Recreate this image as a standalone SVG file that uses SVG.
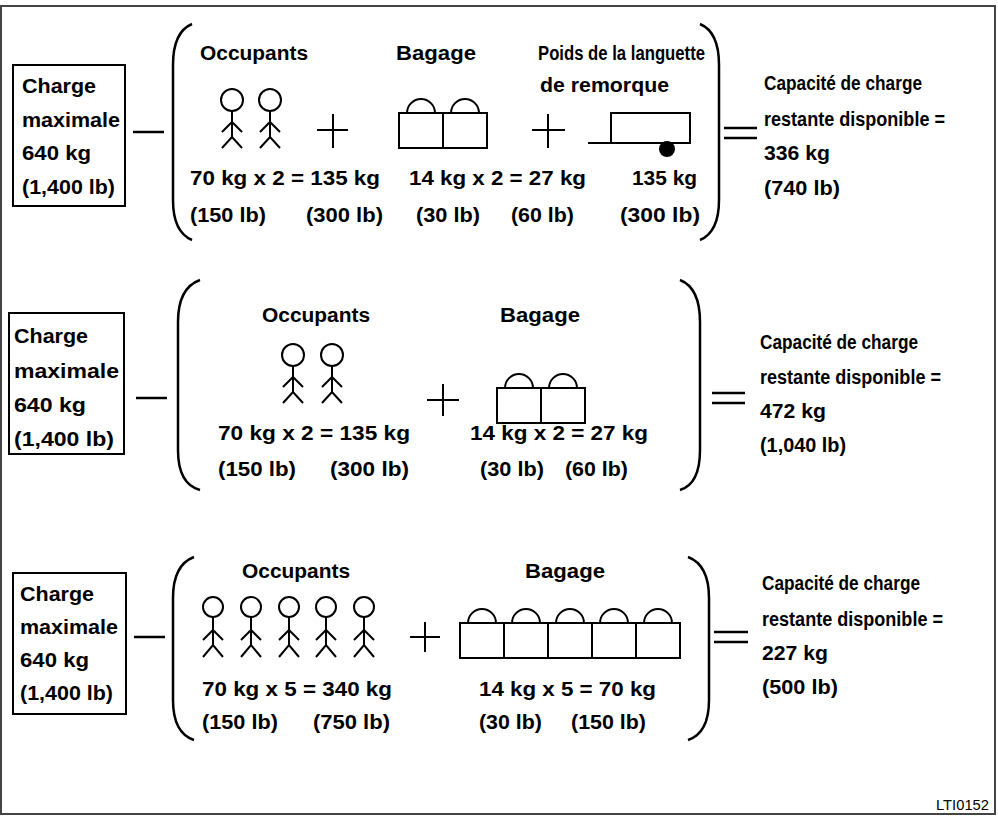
<svg xmlns="http://www.w3.org/2000/svg" width="998" height="817" viewBox="0 0 998 817">
<style>
text{font-family:"Liberation Sans",Arial,sans-serif;font-weight:bold;font-size:20px;fill:#000}
.s{fill:none;stroke:#000;stroke-width:2.5}
.t{fill:none;stroke:#000;stroke-width:2}
.b{fill:none;stroke:#000;stroke-width:2.5}
</style>
<defs>
<g id="man" class="t"><circle cx="0" cy="0" r="11"/><path d="M0,11V37M-10,32L0,22L10,32M-10,48L0,37L10,48"/></g>
<g id="man3" class="t"><circle cx="0" cy="0" r="10"/><path d="M0,10V38M-10,33L0,23L10,33M-10,50L0,38L10,50"/></g>
<g id="bag" class="t"><rect x="0" y="0" width="44" height="35"/><path d="M8,0A14,14 0 0 1 36,0"/></g>
</defs>
<rect x="1" y="6" width="994" height="808" fill="none" stroke="#444" stroke-width="2"/>
<text x="936" y="810" style="font-weight:normal;font-size:14px" textLength="53" lengthAdjust="spacingAndGlyphs">LTI0152</text>

<g id="row1">
<rect x="13" y="65" width="112" height="141" class="t"/>
<text x="22" y="93" textLength="74" lengthAdjust="spacingAndGlyphs">Charge</text><text x="22" y="127" textLength="98" lengthAdjust="spacingAndGlyphs">maximale</text>
<text x="22" y="160" textLength="69" lengthAdjust="spacingAndGlyphs">640 kg</text><text x="22" y="194" textLength="93" lengthAdjust="spacingAndGlyphs">(1,400 lb)</text>
<path class="s" d="M133,132H164"/>
<path class="b" d="M192,24Q173,32 173,65V200Q173,232 192,240"/>
<text x="200" y="60" textLength="108" lengthAdjust="spacingAndGlyphs">Occupants</text>
<use href="#man" x="232" y="100"/><use href="#man" x="270" y="100"/>
<path class="t" d="M317,130H348M333,114V148"/>
<text x="396" y="60" textLength="80" lengthAdjust="spacingAndGlyphs">Bagage</text>
<use href="#bag" x="399" y="113"/><use href="#bag" x="443" y="113"/>
<text x="538" y="60" textLength="167" lengthAdjust="spacingAndGlyphs">Poids de la languette</text>
<text x="540" y="92" textLength="129" lengthAdjust="spacingAndGlyphs">de remorque</text>
<path class="t" d="M532,130H565M548,114V148"/>
<path class="t" d="M588,143H690V113H611V143"/>
<circle cx="667" cy="149" r="8"/>
<text x="190" y="185" textLength="190" lengthAdjust="spacingAndGlyphs">70 kg x 2 = 135 kg</text>
<text x="190" y="222" textLength="76" lengthAdjust="spacingAndGlyphs">(150 lb)</text><text x="306" y="222" textLength="77" lengthAdjust="spacingAndGlyphs">(300 lb)</text>
<text x="409" y="185" textLength="177" lengthAdjust="spacingAndGlyphs">14 kg x 2 = 27 kg</text>
<text x="416" y="222" textLength="64" lengthAdjust="spacingAndGlyphs">(30 lb)</text><text x="511" y="222" textLength="63" lengthAdjust="spacingAndGlyphs">(60 lb)</text>
<text x="632" y="185" textLength="65" lengthAdjust="spacingAndGlyphs">135 kg</text>
<text x="620" y="222" textLength="80" lengthAdjust="spacingAndGlyphs">(300 lb)</text>
<path class="b" d="M700,24Q719,32 719,65V200Q719,232 700,240"/>
<path class="s" d="M724,128H757M724,138H757"/>
<text x="764" y="90" textLength="158" lengthAdjust="spacingAndGlyphs">Capacité de charge</text>
<text x="764" y="126" textLength="181" lengthAdjust="spacingAndGlyphs">restante disponible =</text>
<text x="764" y="160" textLength="66" lengthAdjust="spacingAndGlyphs">336 kg</text>
<text x="764" y="195" textLength="76" lengthAdjust="spacingAndGlyphs">(740 lb)</text>
</g>

<g id="row2">
<rect x="9" y="313" width="115" height="141" class="t"/>
<text x="14" y="343" textLength="74" lengthAdjust="spacingAndGlyphs">Charge</text><text x="14" y="378" textLength="105" lengthAdjust="spacingAndGlyphs">maximale</text>
<text x="14" y="412" textLength="72" lengthAdjust="spacingAndGlyphs">640 kg</text><text x="14" y="446" textLength="100" lengthAdjust="spacingAndGlyphs">(1,400 lb)</text>
<path class="s" d="M136,398H167"/>
<path class="b" d="M200,280Q178,288 178,322V450Q178,484 200,490"/>
<text x="262" y="322" textLength="108" lengthAdjust="spacingAndGlyphs">Occupants</text>
<use href="#man" x="293" y="355"/><use href="#man" x="332" y="355"/>
<path class="t" d="M427,400H459M443,384V416"/>
<text x="500" y="322" textLength="80" lengthAdjust="spacingAndGlyphs">Bagage</text>
<use href="#bag" x="497" y="388"/><use href="#bag" x="541" y="388"/>
<text x="218" y="440" textLength="192" lengthAdjust="spacingAndGlyphs">70 kg x 2 = 135 kg</text>
<text x="218" y="476" textLength="78" lengthAdjust="spacingAndGlyphs">(150 lb)</text><text x="330" y="476" textLength="79" lengthAdjust="spacingAndGlyphs">(300 lb)</text>
<text x="470" y="440" textLength="178" lengthAdjust="spacingAndGlyphs">14 kg x 2 = 27 kg</text>
<text x="480" y="476" textLength="64" lengthAdjust="spacingAndGlyphs">(30 lb)</text><text x="565" y="476" textLength="63" lengthAdjust="spacingAndGlyphs">(60 lb)</text>
<path class="b" d="M680,280Q700,288 700,322V450Q700,484 680,490"/>
<path class="s" d="M712,393H745M712,403H745"/>
<text x="760" y="349" textLength="158" lengthAdjust="spacingAndGlyphs">Capacité de charge</text>
<text x="760" y="384" textLength="181" lengthAdjust="spacingAndGlyphs">restante disponible =</text>
<text x="760" y="418" textLength="66" lengthAdjust="spacingAndGlyphs">472 kg</text>
<text x="760" y="452" textLength="86" lengthAdjust="spacingAndGlyphs">(1,040 lb)</text>
</g>

<g id="row3">
<rect x="13" y="573" width="113" height="141" class="t"/>
<text x="20" y="601" textLength="74" lengthAdjust="spacingAndGlyphs">Charge</text><text x="20" y="634" textLength="98" lengthAdjust="spacingAndGlyphs">maximale</text>
<text x="20" y="667" textLength="69" lengthAdjust="spacingAndGlyphs">640 kg</text><text x="20" y="700" textLength="93" lengthAdjust="spacingAndGlyphs">(1,400 lb)</text>
<path class="s" d="M134,637H165"/>
<path class="b" d="M194,557Q173,565 173,598V700Q173,733 194,740"/>
<text x="242" y="578" textLength="108" lengthAdjust="spacingAndGlyphs">Occupants</text>
<use href="#man3" x="213" y="607"/><use href="#man3" x="251" y="607"/><use href="#man3" x="289" y="607"/><use href="#man3" x="326" y="607"/><use href="#man3" x="364" y="607"/>
<path class="t" d="M410,637H440M425,622V652"/>
<text x="525" y="578" textLength="80" lengthAdjust="spacingAndGlyphs">Bagage</text>
<use href="#bag" x="460" y="623"/><use href="#bag" x="504" y="623"/><use href="#bag" x="548" y="623"/><use href="#bag" x="592" y="623"/><use href="#bag" x="636" y="623"/>
<text x="202" y="696" textLength="190" lengthAdjust="spacingAndGlyphs">70 kg x 5 = 340 kg</text>
<text x="202" y="729" textLength="76" lengthAdjust="spacingAndGlyphs">(150 lb)</text><text x="313" y="729" textLength="77" lengthAdjust="spacingAndGlyphs">(750 lb)</text>
<text x="479" y="696" textLength="177" lengthAdjust="spacingAndGlyphs">14 kg x 5 = 70 kg</text>
<text x="479" y="729" textLength="63" lengthAdjust="spacingAndGlyphs">(30 lb)</text><text x="571" y="729" textLength="75" lengthAdjust="spacingAndGlyphs">(150 lb)</text>
<path class="b" d="M688,557Q709,565 709,598V700Q709,733 688,740"/>
<path class="s" d="M714,632H748M714,642H748"/>
<text x="762" y="590" textLength="158" lengthAdjust="spacingAndGlyphs">Capacité de charge</text>
<text x="762" y="626" textLength="181" lengthAdjust="spacingAndGlyphs">restante disponible =</text>
<text x="762" y="660" textLength="66" lengthAdjust="spacingAndGlyphs">227 kg</text>
<text x="762" y="694" textLength="76" lengthAdjust="spacingAndGlyphs">(500 lb)</text>
</g>
</svg>
